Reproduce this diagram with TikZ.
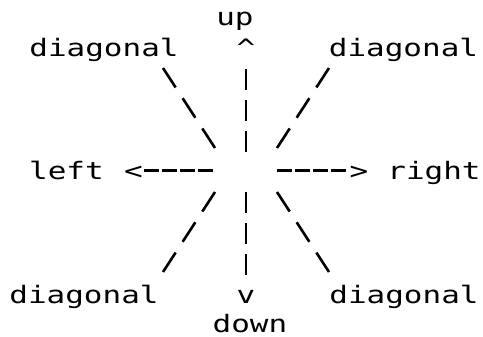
\documentclass[tikz,border=0pt]{standalone}
\usepackage{fontspec}
\newfontfamily\pixfont[FakeStretch=1.29]{DejaVu Sans Mono}
\begin{document}
\begin{tikzpicture}[x=1pt,y=-1pt,
  lbl/.style={inner sep=0pt, outer sep=0pt, anchor=base, text=black,
    font=\pixfont\fontsize{24}{24}\selectfont},
  vdash/.style={line width=2.6pt, dash pattern=on 21pt off 9.9pt},
  hdash/.style={line width=2.6pt, dash pattern=on 15pt off 3pt},
  ddash/.style={line width=2.6pt, dash pattern=on 23.3pt off 12.8pt}]
\fill[white] (0,0) rectangle (483,337);
\useasboundingbox (0,0) rectangle (483,337);
% labels
\node[lbl] (up) at (235,25.5) {up};
\node[lbl] (down) at (250,332.5) {down};
\node[lbl] (left) at (66.5,180) {left};
\node[lbl] (right) at (434,180) {right};
\node[lbl] (dTL) at (104,56.4) {diagonal};
\node[lbl] (dTR) at (403.5,56.4) {diagonal};
\node[lbl] (dBL) at (84,303.6) {diagonal};
\node[lbl] (dBR) at (404,303.6) {diagonal};
% arrow heads
\node[lbl] (tipU) at (246,56.4) {\textasciicircum};
\node[lbl] (tipD) at (246,303.6) {v};
\node[lbl] (tipL) at (133.5,180) {<};
\node[lbl] (tipR) at (359,180) {>};
% centre
\coordinate (c) at (246,170.5);
% straight connectors
\draw[vdash, shorten <=18.5pt, shorten >=11.6pt] (c) -- (tipU.south);
\draw[vdash, shorten <=21.5pt, shorten >=15.5pt] (c) -- (tipD.north);
\draw[hdash, shorten <=33pt, shorten >=1pt] (c) -- (c -| tipL.east);
\draw[hdash, shorten <=31pt, shorten >=2.7pt] (c) -- (c -| tipR.west);
% diagonal connectors
\coordinate (tl1) at (215,148); \coordinate (tl2) at (163,68);
\coordinate (tr1) at (277,148); \coordinate (tr2) at (329,68);
\coordinate (bl1) at (215,192); \coordinate (bl2) at (163,272);
\coordinate (br1) at (277,192); \coordinate (br2) at (329,272);
\draw[ddash] (tl1) -- (tl2);
\draw[ddash] (tr1) -- (tr2);
\draw[ddash] (bl1) -- (bl2);
\draw[ddash] (br1) -- (br2);
\end{tikzpicture}
\end{document}
